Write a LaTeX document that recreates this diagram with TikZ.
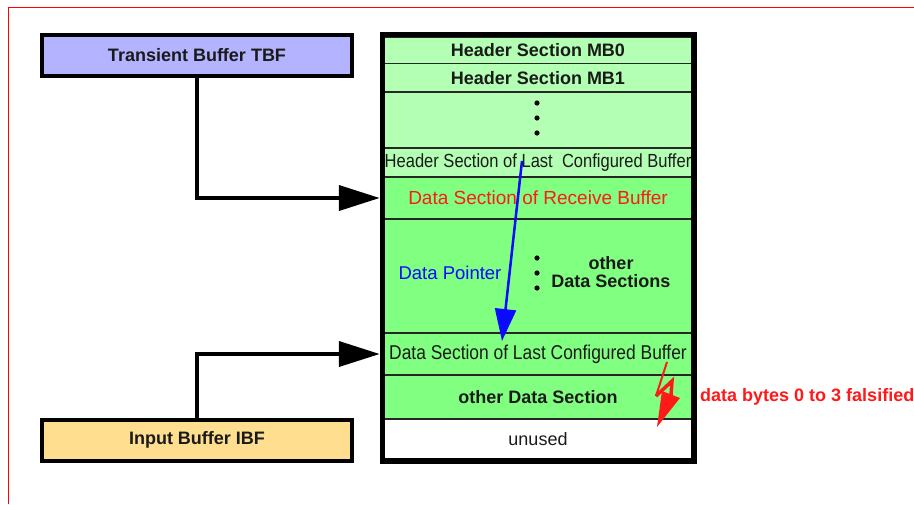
\documentclass[tikz,border=0pt]{standalone}
\usepackage{fontspec}
\setmainfont{Liberation Sans}
\usetikzlibrary{arrows.meta}
\definecolor{tbfc}{HTML}{B3B3FF}
\definecolor{ibfc}{HTML}{FFDF8F}
\definecolor{hdrc}{HTML}{B3FFB3}
\definecolor{datc}{HTML}{80FF80}
\definecolor{redc}{HTML}{FF1A1A}
\definecolor{bluc}{HTML}{0A0AFF}
\definecolor{txtc}{HTML}{1A1A1A}
\begin{document}
\begin{tikzpicture}[x=1pt,y=-1pt,
  bufbox/.style={draw=black, line width=4pt, minimum width=310pt, minimum height=41pt,
    inner sep=0pt, text=txtc, font=\fontsize{18}{21}\selectfont\bfseries},
  rowbox/.style={draw=black!85, line width=1.2pt, minimum width=308pt, inner sep=0pt,
    text=txtc, font=\fontsize{18}{21}\selectfont},
  hdrrow/.style={rowbox, fill=hdrc},
  datrow/.style={rowbox, fill=datc},
  conn/.style={line width=4pt, -{Triangle[length=41pt,width=25pt]}},
  ptr/.style={bluc, line width=2.5pt, -{Triangle[length=32pt,width=21pt]}},
  dotmark/.style={fill=black},
  plainlabel/.style={inner sep=0pt, font=\fontsize{18}{18.5}\selectfont}
]
\useasboundingbox (0,0) rectangle (914,504);
\fill[white] (0,0) rectangle (914,504);
% red frame
\draw[red, line width=1pt] (8,504) -- (8,7) -- (914,7);

% buffers
\node[bufbox, fill=tbfc] (tbf) at (197,55.5) {Transient Buffer TBF};
\node[bufbox, fill=ibfc] (ibf) at (197,440.2) {Input Buffer IBF};

% memory rows
\node[hdrrow, minimum height=25.6pt] (mb0) at (538,50.5) {\bfseries Header Section MB0};
\node[hdrrow, minimum height=28.7pt] (mb1) at (538,77.65) {\bfseries Header Section MB1};
\node[hdrrow, minimum height=56pt] (hdots) at (538,120) {};
\node[hdrrow, minimum height=29pt] (hlast) at (538,162.5)
  {\fontsize{19}{22}\selectfont\scalebox{0.87}[1]{Header Section of Last\ \ Configured Buffer}};
\node[datrow, minimum height=42pt, text=redc] (recv) at (538,198)
  {\fontsize{19}{22}\selectfont Data Section of Receive Buffer};
\node[datrow, minimum height=114pt] (others) at (538,276) {};
\node[datrow, minimum height=42pt] (dlast) at (538,354)
  {\fontsize{20}{23}\selectfont\scalebox{0.87}[1]{Data Section of Last Configured Buffer}};
\node[datrow, minimum height=44pt] (odata) at (538,397) {\bfseries other Data Section};
\node[rowbox, fill=white, minimum height=40pt] (unused) at (538,439) {unused};

% outer border of memory
\node[draw=black, line width=5.5pt, minimum width=311.5pt, minimum height=426.5pt,
  inner sep=0pt] (mem) at (538.25,247.75) {};

% dots
\fill[dotmark] (537,103) circle (2.6pt);
\fill[dotmark] (537,118) circle (2.6pt);
\fill[dotmark] (537,133) circle (2.6pt);
\fill[dotmark] (537,258) circle (2.6pt);
\fill[dotmark] (537,273) circle (2.6pt);
\fill[dotmark] (537,288) circle (2.6pt);

% labels in other data sections
\node[plainlabel, align=center, text=txtc] (othl) at (611,272) {\bfseries other\\\bfseries Data Sections};
\node[plainlabel, text=bluc, font=\fontsize{18.5}{19}\selectfont] (dptr) at (450,273) {Data Pointer};

% connectors
\draw[conn] (tbf.south) |- (mem.west |- recv.center);
\draw[conn] (ibf.north) |- (mem.west |- dlast.center);

% data pointer
\coordinate (ptrS) at (522,161);
\coordinate (ptrE) at (502,341);
\draw[ptr] (ptrS) -- (ptrE);

% lightning
\draw[redc, line width=2pt] (667,362) -- (656,396);
\draw[redc, line width=3.5pt, line join=miter] (656,396) -- (672,381) -- (671,395);
\fill[redc] (662,391) -- (680,398) -- (657,427) -- cycle;
\node[plainlabel, anchor=west, text=redc] (fals) at (700,397) {\bfseries data bytes 0 to 3 falsified};
\end{tikzpicture}
\end{document}
